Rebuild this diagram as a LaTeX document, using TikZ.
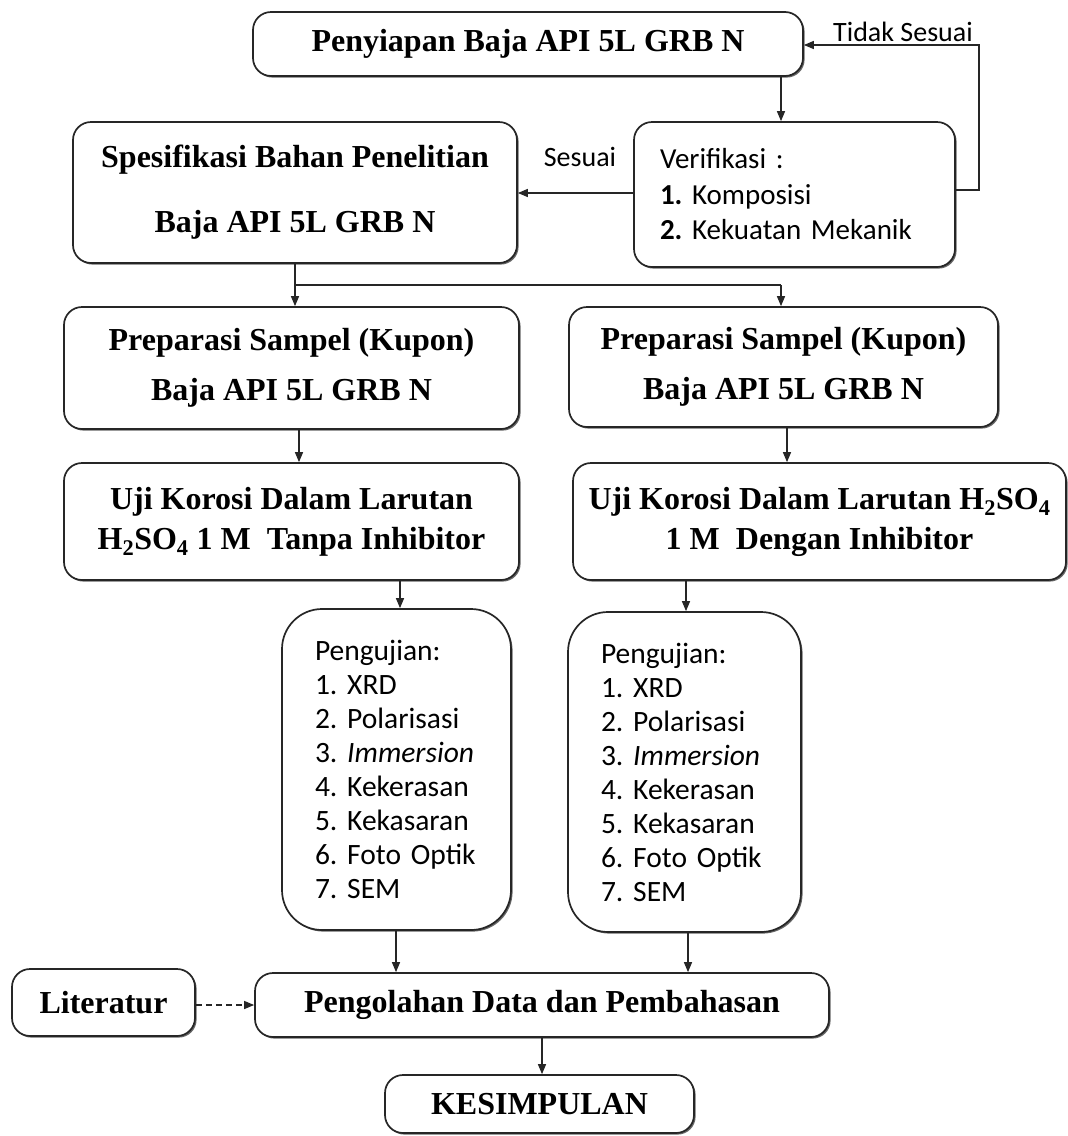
\documentclass[tikz,border=0pt]{standalone}
\usepackage{fontspec}
\setmainfont{Liberation Serif}
\newfontfamily\calfont{Carlito}
\usetikzlibrary{arrows.meta,shadows}
\newcommand\mybf{\fontsize{32}{37}\selectfont\bfseries}
\newcommand\oneline[1]{\mbox{#1}}
\begin{document}
\begin{tikzpicture}[x=1pt,y=-1pt,
  box/.style={draw=black!85, line width=1.7pt, rounded corners=18pt, fill=white,
    inner sep=0pt, align=center, font=\mybf,
    drop shadow={shadow xshift=1.6pt, shadow yshift=-1.6pt, fill=black!60, opacity=1}},
  listbox/.style={box, align=left, font=\calfont\fontsize{29.5}{34}\selectfont},
  arr/.style={line width=1.3pt, draw=black!85, -{Triangle[length=10pt,width=8pt]}},
  ln/.style={line width=1.3pt, draw=black!85},
  lbl/.style={font=\calfont\fontsize{28}{32}\selectfont, inner sep=0pt}]
\useasboundingbox (0,0) rectangle (1068,1136);

\node[box, minimum width=550, minimum height=64] (top) at (528,44) {Penyiapan Baja API 5L GRB N};
\node[listbox, minimum width=321, minimum height=145, text width=269pt,
  font=\calfont\fontsize{29}{35.5}\selectfont] (verif) at (794.5,194.5)
  {\oneline{Verifikasi :}\\\oneline{\textbf{1.}\ Komposisi}\\\oneline{\textbf{2.}\ Kekuatan Mekanik}};
\node[box, minimum width=444, minimum height=141] (spec) at (295,192.5)
  {Spesifikasi Bahan Penelitian\\[28pt]Baja API 5L GRB N};
\node[box, minimum width=455, minimum height=122] (prepL) at (291.5,368)
  {Preparasi Sampel (Kupon)\\[13pt]Baja API 5L GRB N};
\node[box, minimum width=429, minimum height=120] (prepR) at (783.5,367)
  {Preparasi Sampel (Kupon)\\[13pt]Baja API 5L GRB N};
\node[box, minimum width=455, minimum height=117] (ujiL) at (291.5,521.5)
  {Uji Korosi Dalam Larutan\\[3pt]H\textsubscript{2}SO\textsubscript{4} 1 M\enspace Tanpa Inhibitor};
\node[box, minimum width=493, minimum height=117] (ujiR) at (819.5,521.5)
  {Uji Korosi Dalam Larutan H\textsubscript{2}SO\textsubscript{4}\\[3pt]1 M\enspace Dengan Inhibitor};
\node[listbox, rounded corners=40pt, minimum width=229, minimum height=321, text width=163pt] (pengL) at (396.5,769.5)
  {\oneline{Pengujian:}\\\oneline{1.\ XRD}\\\oneline{2.\ Polarisasi}\\\oneline{3.\ \textit{Immersion}}\\\oneline{4.\ Kekerasan}\\\oneline{5.\ Kekasaran}\\\oneline{6.\ Foto Optik}\\\oneline{7.\ SEM}};
\node[listbox, rounded corners=40pt, minimum width=233, minimum height=320, text width=167pt] (pengR) at (684.5,772)
  {\oneline{Pengujian:}\\\oneline{1.\ XRD}\\\oneline{2.\ Polarisasi}\\\oneline{3.\ \textit{Immersion}}\\\oneline{4.\ Kekerasan}\\\oneline{5.\ Kekasaran}\\\oneline{6.\ Foto Optik}\\\oneline{7.\ SEM}};
\node[box, minimum width=183, minimum height=67] (lit) at (103.5,1002.5) {Literatur};
\node[box, minimum width=574, minimum height=64] (olah) at (542,1005) {Pengolahan Data dan Pembahasan};
\node[box, minimum width=309, minimum height=58] (kes) at (539.5,1104) {KESIMPULAN};

\node[lbl] (tidak) at (903,32) {Tidak Sesuai};
\node[lbl] (sesuai) at (580,157) {Sesuai};

\coordinate (c1) at (781,0);
\coordinate (loopx) at (979,0);
\coordinate (yl) at (0,45);
\coordinate (yv) at (0,190);
\coordinate (ys) at (0,193);
\coordinate (cs) at (295,0);
\coordinate (ysplit) at (0,285);

\draw[arr] (top.south -| c1) -- (verif.north -| c1);
\draw[arr] (verif.east |- yv) -- (loopx |- yv) -- (loopx |- yl) -- (top.east |- yl);
\draw[arr] (verif.west |- ys) -- (spec.east |- ys);
\draw[ln] (spec.south -| cs) -- (cs |- ysplit) -- (c1 |- ysplit);
\draw[arr] (cs |- ysplit) -- (prepL.north -| cs);
\draw[arr] (c1 |- ysplit) -- (prepR.north -| c1);
\draw[arr] (prepL.south -| 299,0) -- (ujiL.north -| 299,0);
\draw[arr] (prepR.south -| 787,0) -- (ujiR.north -| 787,0);
\draw[arr] (ujiL.south -| 400,0) -- (pengL.north -| 400,0);
\draw[arr] (ujiR.south -| 686,0) -- (pengR.north -| 686,0);
\draw[arr] (pengL.south -| 396,0) -- (olah.north -| 396,0);
\draw[arr] (pengR.south -| 688,0) -- (olah.north -| 688,0);
\draw[arr, dashed, dash pattern=on 6pt off 4pt] (lit.east |- olah.west) -- (olah.west);
\draw[arr] (olah.south) -- (kes.north -| olah.south);
\end{tikzpicture}
\end{document}
